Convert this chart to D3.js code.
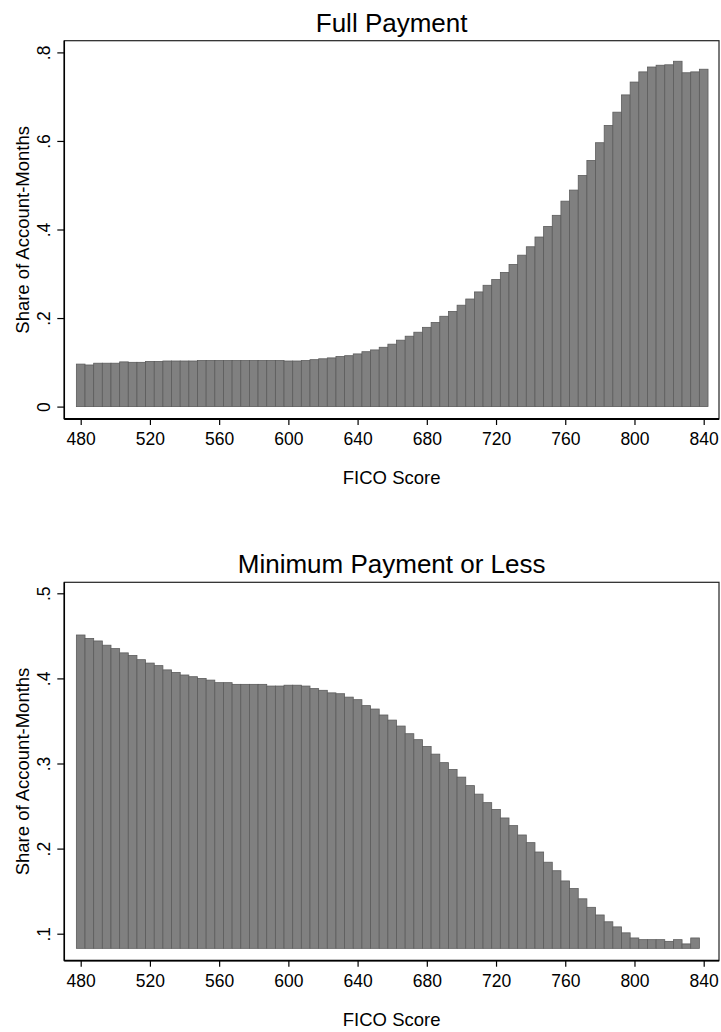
<!DOCTYPE html>
<html>
<head>
<meta charset="utf-8">
<script src="https://cdn.jsdelivr.net/npm/d3@7/dist/d3.min.js"></script>
<style>
  html, body { margin: 0; padding: 0; background: #fff; }
  svg { display: block; }
  text { font-family: "Liberation Sans", Arial, Helvetica, sans-serif; fill: #000; }
</style>
</head>
<body>
<svg id="chart" width="721" height="1032"></svg>
<script>
// ---------------- data ----------------
const ficoFull = [480,485,490,495,500,505,510,515,520,525,530,535,540,545,550,555,560,565,570,575,
  580,585,590,595,600,605,610,615,620,625,630,635,640,645,650,655,660,665,670,675,
  680,685,690,695,700,705,710,715,720,725,730,735,740,745,750,755,760,765,770,775,
  780,785,790,795,800,805,810,815,820,825,830,835,840];
const fullPayment = [0.096,0.094,0.098,0.098,0.098,0.101,0.100,0.100,0.102,0.102,
  0.103,0.103,0.103,0.103,0.104,0.104,0.104,0.104,0.104,0.104,
  0.104,0.104,0.104,0.104,0.103,0.103,0.104,0.106,0.108,0.110,
  0.113,0.115,0.119,0.124,0.128,0.134,0.141,0.150,0.159,0.168,
  0.179,0.190,0.204,0.215,0.229,0.243,0.259,0.274,0.287,0.303,
  0.321,0.342,0.361,0.383,0.407,0.432,0.464,0.489,0.522,0.556,
  0.596,0.635,0.665,0.704,0.733,0.756,0.767,0.771,0.772,0.780,
  0.754,0.756,0.762];

const ficoMin = [480,485,490,495,500,505,510,515,520,525,530,535,540,545,550,555,560,565,570,575,
  580,585,590,595,600,605,610,615,620,625,630,635,640,645,650,655,660,665,670,675,
  680,685,690,695,700,705,710,715,720,725,730,735,740,745,750,755,760,765,770,775,
  780,785,790,795,800,805,810,815,820,825,830,835];
const minPayment = [0.451,0.447,0.444,0.439,0.435,0.430,0.427,0.422,0.418,0.415,
  0.410,0.407,0.404,0.402,0.400,0.398,0.395,0.395,0.393,0.393,
  0.393,0.393,0.391,0.391,0.392,0.392,0.391,0.388,0.386,0.383,
  0.382,0.378,0.375,0.368,0.364,0.357,0.351,0.344,0.335,0.328,
  0.320,0.311,0.301,0.293,0.284,0.274,0.264,0.254,0.246,0.236,
  0.227,0.216,0.207,0.196,0.184,0.174,0.162,0.153,0.141,0.131,
  0.122,0.114,0.108,0.101,0.095,0.093,0.093,0.093,0.091,0.093,
  0.088,0.095];

const xTicks = [480,520,560,600,640,680,720,760,800,840];
const yTicksFull = [0,0.2,0.4,0.6,0.8];
const yTickLabelsFull = ["0",".2",".4",".6",".8"];
const yTicksMin = [0.1,0.2,0.3,0.4,0.5];
const yTickLabelsMin = [".1",".2",".3",".4",".5"];
const binWidth = 5;
const minBase = 0.0828;

const titles = ["Full Payment", "Minimum Payment or Less"];
const xTitle = "FICO Score";
const yTitle = "Share of Account-Months";

// ---------------- layout ----------------
const svg = d3.select("#chart");
const frameLeft = 64.3, frameRight = 719;
const x = d3.scaleLinear().domain([480, 840]).range([80.7, 703.7]);

const panels = [
  { title: titles[0], fico: ficoFull, vals: fullPayment, base: 0,
    y: d3.scaleLinear().domain([0, 0.8]).range([406.6, 52.4]),
    ticks: yTicksFull, tickLabels: yTickLabelsFull,
    top: 40.7, bottom: 419 },
  { title: titles[1], fico: ficoMin, vals: minPayment, base: minBase,
    y: d3.scaleLinear().domain([0.1, 0.5]).range([933.7, 593.3]),
    ticks: yTicksMin, tickLabels: yTickLabelsMin,
    top: 582.3, bottom: 960.7 }
];

panels.forEach(p => {
  const g = svg.append("g");

  // bars
  g.append("g").selectAll("rect")
    .data(p.fico.map((f, i) => ({ f, v: p.vals[i] })))
    .join("rect")
    .attr("x", d => x(d.f - binWidth / 2))
    .attr("width", d => x(d.f + binWidth / 2) - x(d.f - binWidth / 2))
    .attr("y", d => p.y(d.v))
    .attr("height", d => p.y(p.base) - p.y(d.v))
    .attr("fill", "#808080")
    .attr("stroke", "#5c5c5c")
    .attr("stroke-width", 0.8);

  // frame
  g.append("rect")
    .attr("x", frameLeft).attr("y", p.top)
    .attr("width", frameRight - frameLeft).attr("height", p.bottom - p.top)
    .attr("fill", "none").attr("stroke", "#222").attr("stroke-width", 1.2);
  g.append("line").attr("x1", frameLeft).attr("x2", frameLeft)
    .attr("y1", p.top).attr("y2", p.bottom).attr("stroke", "#000").attr("stroke-width", 1.5);
  g.append("line").attr("x1", frameLeft).attr("x2", frameRight)
    .attr("y1", p.bottom).attr("y2", p.bottom).attr("stroke", "#000").attr("stroke-width", 1.8);

  // y axis
  const yAxis = g.append("g")
    .attr("transform", `translate(${frameLeft},0)`)
    .call(d3.axisLeft(p.y).tickValues(p.ticks)
      .tickFormat((d, i) => p.tickLabels[i]).tickSize(7).tickPadding(0));
  yAxis.select(".domain").remove();
  yAxis.selectAll(".tick line").attr("stroke", "#000").attr("stroke-width", 1.2);
  yAxis.selectAll(".tick text")
    .attr("x", null).attr("dy", null)
    .attr("text-anchor", "middle")
    .attr("transform", "translate(-14.5,0) rotate(-90)")
    .style("font-size", "17.5px")
    .style("font-family", '"Liberation Sans", Arial, sans-serif');

  // x axis
  const xAxis = g.append("g")
    .attr("transform", `translate(0,${p.bottom})`)
    .call(d3.axisBottom(x).tickValues(xTicks).tickFormat(d3.format("d"))
      .tickSize(6).tickPadding(0));
  xAxis.select(".domain").remove();
  xAxis.selectAll(".tick line").attr("stroke", "#000").attr("stroke-width", 1.2);
  xAxis.selectAll(".tick text")
    .attr("y", 26).attr("dy", null)
    .style("font-size", "17.5px")
    .style("font-family", '"Liberation Sans", Arial, sans-serif');

  // titles
  g.append("text")
    .attr("x", (frameLeft + frameRight) / 2).attr("y", p.top - 9)
    .attr("text-anchor", "middle")
    .style("font-size", "26px")
    .text(p.title);
  g.append("text")
    .attr("x", (frameLeft + frameRight) / 2).attr("y", p.bottom + 65)
    .attr("text-anchor", "middle")
    .style("font-size", "18.5px")
    .text(xTitle);
  g.append("text")
    .attr("transform", `translate(28.5,${(p.top + p.bottom) / 2}) rotate(-90)`)
    .attr("text-anchor", "middle")
    .style("font-size", "18.5px")
    .text(yTitle);
});
</script>
</body>
</html>
